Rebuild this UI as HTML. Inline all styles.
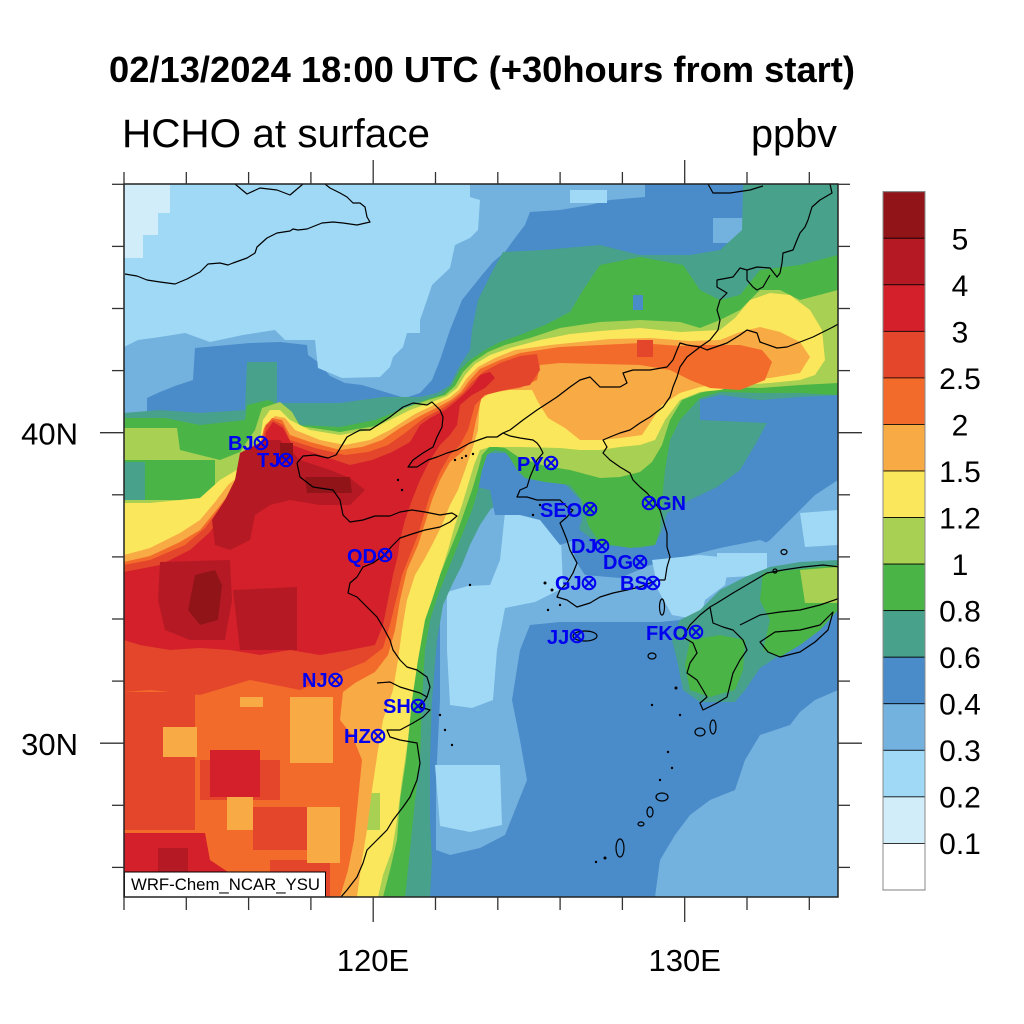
<!DOCTYPE html>
<html><head><meta charset="utf-8"><style>
html,body{margin:0;padding:0;background:#fff;}
svg{display:block;}
text{font-family:"Liberation Sans",sans-serif;}
</style></head><body>
<svg width="1024" height="1024" viewBox="0 0 1024 1024" xmlns="http://www.w3.org/2000/svg">
<defs><clipPath id="mc"><rect x="124" y="184" width="714" height="713"/></clipPath></defs>
<rect width="1024" height="1024" fill="#fff"/>
<text x="482" y="82" font-size="36" font-weight="bold" text-anchor="middle" textLength="746" lengthAdjust="spacingAndGlyphs">02/13/2024 18:00 UTC (+30hours from start)</text>
<text x="122" y="147" font-size="40" textLength="308" lengthAdjust="spacingAndGlyphs">HCHO at surface</text>
<text x="751" y="147" font-size="40" textLength="86" lengthAdjust="spacingAndGlyphs">ppbv</text>

<g clip-path="url(#mc)">
<rect x="124" y="184" width="714" height="713" fill="#4a8bc9"/>
<!-- 0.3 -->
<g fill="#73b1de">
<polygon points="124,184 645,184 645,197 610,200 590,205 560,210 530,212 525,225 515,238 505,252 493,262 482,275 462,300 450,330 440,360 432,380 420,393 405,398 385,392 362,385 345,383 330,376 318,362 308,355 307,345 280,342 250,343 195,348 193,380 175,386 160,392 147,398 147,418 124,418"/>
<polygon points="713,218 783,218 783,243 713,243"/>
<polygon points="445,545 462,522 490,508 520,506 555,500 568,515 572,540 575,560 585,575 620,578 650,565 680,558 720,548 760,540 780,548 790,560 760,570 730,585 700,610 680,620 660,622 620,622 560,622 530,625 520,650 512,700 520,740 527,780 515,810 505,835 480,848 450,855 436,850 436,780 440,700 440,620 440,580"/>
<polygon points="655,897 838,897 838,690 815,700 800,712 790,725 760,735 745,760 735,790 710,800 690,815 675,835 660,860"/>
<polygon points="838,480 838,572 790,572 760,578 720,580 740,560 770,540 795,515 815,495"/>
</g>
<!-- 0.2 -->
<g fill="#9fd9f6">
<polygon points="124,184 470,184 470,197 480,200 478,230 470,238 455,245 450,268 432,285 427,300 420,320 420,333 407,333 403,347 393,357 390,367 380,377 342,378 318,368 315,340 285,340 275,330 243,335 210,342 185,333 160,337 138,340 124,347"/>
<polygon points="570,190 607,190 607,203 570,203"/>
<polygon points="505,512 560,512 563,588 535,602 505,608 497,650 493,700 472,708 450,705 447,650 447,592 468,586 490,585 500,560"/>
<polygon points="435,765 500,765 502,825 470,832 440,826"/>
<polygon points="652,560 700,555 730,558 725,585 705,600 700,620 672,615 658,590"/>
<polygon points="800,513 838,510 838,545 805,547"/>
<polygon points="717,553 767,553 767,575 717,578"/>
</g>
<polygon fill="#d2edfa" points="124,184 170,184 170,213 158,213 158,235 143,235 143,258 124,258"/>
<!-- 0.6 teal -->
<g fill="#48a18b">
<polygon points="124,413 160,410 200,413 245,410 247,362 277,362 277,403 340,403 383,397 420,397 437,393 450,385 460,365 470,350 472,330 478,300 493,270 503,252 543,250 600,245 640,255 690,255 720,250 742,230 743,184 838,184 838,395 800,397 760,400 720,395 700,400 700,420 767,423 755,445 740,470 717,487 690,500 667,513 662,530 655,545 640,548 600,545 580,530 570,505 555,490 535,485 515,490 500,500 490,510 480,525 470,545 462,565 452,585 443,605 437,640 432,700 430,760 430,820 432,860 430,897 124,897"/>
<polygon points="838,560 838,605 820,625 800,640 780,655 760,668 745,690 735,702 700,702 683,690 677,660 672,640 680,620 700,610 720,590 745,577 770,567 800,562"/>
</g>
<polygon fill="#4a8bc9" points="477,453 517,453 522,470 540,480 565,484 580,500 582,520 575,540 560,545 540,520 520,515 495,515 490,490 477,487"/>
<!-- 0.8 green -->
<g fill="#4bb447">
<polygon points="124,418 165,418 200,425 245,420 247,405 268,400 290,410 300,425 340,427 375,420 400,410 425,400 443,394 452,385 460,370 470,360 485,350 500,342 520,335 545,325 570,312 583,290 600,265 640,257 683,265 700,290 720,300 740,295 760,270 800,265 838,255 838,395 800,393 760,393 720,392 700,398 680,420 670,440 665,470 662,500 660,530 655,545 630,548 600,543 588,525 582,500 570,485 545,482 525,478 517,470 510,458 505,452 495,450 487,455 482,470 478,490 472,510 464,530 456,550 448,570 438,595 430,620 425,650 422,700 420,760 415,800 410,850 405,897 124,897"/>
<polygon points="690,640 720,635 745,640 743,670 735,690 710,697 690,690 685,665"/>
<polygon points="763,573 838,565 838,610 820,630 800,645 780,657 763,650 770,620 760,600"/>
</g>
<polygon fill="#48a18b" points="800,303 838,303 838,343 800,343"/>
<polygon fill="#4a8bc9" points="633,295 643,295 643,310 633,310"/>
<!-- 1.0 lime -->
<g fill="#a8d052">
<polygon points="124,428 177,428 180,450 200,455 220,460 240,452 255,430 262,408 280,402 292,412 300,426 340,432 375,426 392,415 405,408 428,400 445,395 455,386 463,372 473,362 488,352 505,345 530,338 560,328 600,322 640,320 680,322 700,328 720,320 740,310 760,290 780,290 800,300 838,290 838,383 800,385 760,388 720,387 700,393 682,400 670,420 662,445 652,462 640,472 620,477 600,478 570,470 545,466 520,458 505,448 490,446 482,455 478,470 472,490 465,510 458,530 450,550 442,570 432,590 425,610 418,640 413,680 410,720 406,760 400,800 397,840 390,870 383,897 124,897"/>
<polygon points="800,570 838,567 838,603 805,603"/>
</g>
<polygon fill="#4bb447" points="124,460 215,460 215,500 124,500"/>
<polygon fill="#48a18b" points="124,462 145,462 145,500 124,500"/>
<!-- 1.2 yellow -->
<polygon fill="#fae75c" points="124,503 150,503 200,498 220,480 240,468 252,455 260,440 263,420 270,410 280,410 290,420 310,430 340,435 370,430 390,420 410,410 432,402 447,396 457,388 465,375 475,364 490,355 510,348 540,340 570,334 600,331 640,328 680,332 720,330 735,318 750,300 770,293 790,295 810,310 822,330 825,360 815,375 800,380 770,383 740,385 720,390 700,392 680,400 665,420 655,440 640,445 620,447 600,450 580,450 560,448 520,447 490,447 480,450 474,465 468,485 462,505 455,525 448,550 440,575 432,600 425,620 418,660 412,700 408,740 402,780 397,820 392,850 383,875 378,897 124,897"/>
<polygon fill="#a8d052" points="360,793 380,793 380,830 360,830"/>
<!-- 1.5 light orange -->
<polygon fill="#f8aa45" points="124,555 150,548 180,533 200,520 215,502 228,485 240,475 250,463 256,450 262,438 265,425 275,416 285,418 295,430 320,440 345,445 370,440 390,430 415,414 436,404 449,398 459,390 467,378 478,367 495,358 515,350 550,345 580,342 610,339 650,338 690,341 720,340 740,332 760,327 780,332 800,342 810,357 800,373 770,378 740,380 720,384 700,387 680,393 662,405 652,420 642,435 620,438 600,440 580,440 565,428 548,418 538,402 532,390 510,390 490,393 480,400 478,430 472,450 465,470 458,490 450,505 442,525 432,545 424,560 415,575 407,600 402,630 398,660 393,690 383,720 378,750 372,790 367,830 362,860 357,897 124,897"/>
<!-- 2 orange -->
<polygon fill="#f36b2b" points="124,562 150,556 180,542 200,530 218,508 232,490 244,475 254,460 260,445 264,428 272,418 282,420 290,435 310,442 340,450 362,447 382,440 400,428 420,416 440,406 451,400 461,392 469,381 480,369 500,360 520,353 560,347 600,345 640,343 680,346 700,345 740,345 762,350 772,362 765,380 740,390 710,388 690,380 670,370 640,365 600,364 560,363 540,365 537,380 520,388 500,391 482,396 476,420 472,440 462,452 450,462 440,480 432,500 426,520 418,545 407,570 400,600 395,630 388,655 375,672 355,683 343,692 340,720 352,735 362,760 358,800 354,840 348,870 340,897 124,897"/>
<!-- 2.5 red-orange -->
<g fill="#e4462c">
<polygon points="124,565 150,560 185,545 205,528 222,505 236,488 248,472 258,455 263,438 266,425 273,420 283,425 290,440 315,448 345,455 368,452 388,445 405,433 424,418 443,408 453,401 463,393 471,383 483,372 500,363 520,356 537,354 540,370 530,385 505,390 485,395 475,405 468,430 460,445 450,455 440,472 430,495 424,515 418,535 410,555 402,575 396,600 390,625 383,648 365,662 340,672 300,690 250,680 200,695 150,690 124,692"/>
<polygon points="124,692 195,692 195,830 124,830"/>
<polygon points="200,760 280,760 280,800 200,800"/>
<polygon points="253,807 307,807 307,850 253,850"/>
<polygon points="270,860 330,860 330,897 270,897"/>
<polygon points="637,340 653,340 653,357 637,357"/>
</g>
<g fill="#f8aa45">
<polygon points="163,727 197,727 197,757 163,757"/>
<polygon points="227,787 253,787 253,830 227,830"/>
<polygon points="290,697 333,697 333,763 290,763"/>
<polygon points="307,807 340,807 340,863 307,863"/>
<polygon points="240,697 263,697 263,707 240,707"/>
</g>
<!-- 3 red -->
<g fill="#d3202a">
<polygon points="124,572 160,565 190,550 210,532 225,510 240,492 255,470 263,452 266,432 273,422 283,428 292,445 320,455 350,465 372,460 392,452 410,442 420,425 430,418 445,410 455,402 463,395 473,385 480,375 490,372 495,378 485,388 472,395 460,405 457,425 450,435 440,445 430,460 420,480 412,500 405,520 400,540 398,555 393,575 388,600 383,625 375,645 350,650 320,655 290,650 260,655 230,650 200,648 170,650 140,645 124,640"/>
<polygon points="210,750 260,750 260,797 210,797"/>
<polygon points="124,833 205,833 210,860 240,880 240,897 124,897"/>
</g>
<!-- 4 dark red -->
<g fill="#b51a24">
<polygon points="240,453 265,440 280,440 300,460 330,470 350,478 365,490 350,505 320,505 290,500 270,505 255,515 250,540 230,550 215,545 212,520 225,500 235,480"/>
<polygon points="160,562 230,560 232,600 225,640 190,640 165,630 158,600"/>
<polygon points="233,590 297,587 297,650 240,650"/>
<polygon points="158,848 188,848 188,872 158,872"/>
</g>
<!-- 5 darkest -->
<g fill="#911419">
<polygon points="195,575 215,570 222,585 218,620 200,625 188,610"/>
<polygon points="305,477 350,477 352,493 307,493"/>
<polygon points="280,443 293,443 293,460 280,460"/>
</g>

<!-- coastlines -->
<g fill="none" stroke="#000" stroke-width="1.2" stroke-linejoin="round">
<polyline points="125,274 137,276 147,280 160,282 175,284 187,279 200,272 208,264 220,263 228,265 233,263 247,258 255,253 257,247 267,238 277,233 290,231 293,229 298,230 307,229 322,223 333,222 343,223 357,225 370,222 367,217 365,207 360,203 353,203 347,197 340,193 330,188 325,184"/>
<polyline points="235,184 247,194 260,188 277,190 290,195 303,184"/>
<polyline points="708,184 713,193 730,193 750,190 763,186"/>
<polyline points="830,184 832,193 820,200 812,207 808,220 805,227 800,233 797,240 793,250 783,253 782,263 780,273 777,277 770,268 757,267 747,270 740,268 733,277 717,280 717,287 727,293 720,300 717,310 720,320 718,330 710,340 700,347 687,345 680,343 677,350 673,360 667,367 650,370 633,370 623,373 627,383 620,387 600,387 590,377 580,380 570,387 557,397 537,410 523,420 510,430 503,433 497,437"/>
<polyline points="747,270 747,280 753,287 757,290 763,287 767,280 770,275"/>
<polyline points="700,347 707,350 727,343 740,335 747,330 757,333 760,342 777,348 787,347 800,342 813,337 833,327 840,323"/>
<polyline points="700,347 687,357 680,367 677,377 673,387 670,397 663,407 650,417 640,423 630,430 620,433 610,437 603,440 607,447 603,453 610,460 620,467 630,473 633,480 640,487 647,493 653,500 660,510 663,520 667,533 667,547 670,557 667,567 665,580"/>
<polyline points="503,433 510,436 520,438 533,440 537,443 540,447 543,453 537,460 533,470 530,477 527,487 520,490 517,497 527,497 537,500 547,500 560,500 567,507 573,510 567,517 560,523 563,530 567,540 570,550 577,563 573,573 567,583 560,590 557,597 567,600 577,607 590,603 600,597 613,593 627,590 640,587 650,583 657,580 665,580"/>
<polyline points="297,463 300,477 313,487 333,490 340,500 343,515 350,522 363,520 375,516 390,516 400,512 412,510 425,512 440,515 452,513 457,516 450,522 440,527 425,530 412,534 400,538 392,546 384,555 373,563 363,567 357,577 350,583 348,593 357,597 367,607 377,617 383,627 390,640 393,650 400,660 407,667 417,670 427,677 430,687 427,697 420,707 430,710 423,717 413,723 400,730 387,730 390,737 400,740 417,743 420,763 417,780 410,797 403,807 393,820 387,830 377,840 367,850 363,863 357,877 347,890 340,898"/>
<polyline points="297,463 303,456 315,455 328,458 336,455 347,437 360,430 370,430 390,417 403,407 413,403 427,405 432,402 440,410 443,417 442,427 437,437 433,447 423,453 413,460 408,467 417,467 428,460 437,457 447,453 457,450 470,443 487,437 497,437 503,433"/>
<polyline points="377,683 390,682 400,687 410,690 420,693 427,697"/>
<polygon points="710,607 713,623 723,627 733,630 743,640 747,650 740,660 733,673 727,697 717,703 703,710 700,703 707,697 703,690 697,680 687,673 690,663 697,653 693,643 683,637 690,625 700,615"/>
<polyline points="710,607 717,603 733,593 750,583 767,573 783,570 803,567 823,565 840,567"/>
<polyline points="740,625 760,615 780,612 800,610 820,605 840,598"/>
<polygon points="760,642 775,632 800,630 820,625 833,612 828,630 815,642 800,652 780,657 768,652"/>
<ellipse cx="585" cy="636" rx="12" ry="5"/>
<ellipse cx="662" cy="607" rx="2.5" ry="8"/>
<ellipse cx="652" cy="656" rx="4" ry="3"/>
<ellipse cx="713" cy="727" rx="3" ry="7"/>
<ellipse cx="700" cy="732" rx="5" ry="4"/>
<ellipse cx="662" cy="797" rx="6" ry="4"/>
<ellipse cx="650" cy="812" rx="3" ry="5"/>
<ellipse cx="641" cy="824" rx="3" ry="2"/>
<ellipse cx="620" cy="848" rx="4" ry="9"/>
<ellipse cx="784" cy="552" rx="3" ry="2.5"/>
<ellipse cx="775" cy="571" rx="2" ry="2"/>
</g>
<g fill="#000">
<circle cx="676" cy="688" r="1.5"/><circle cx="652" cy="705" r="1.2"/><circle cx="680" cy="715" r="1.2"/>
<circle cx="668" cy="752" r="1.2"/><circle cx="672" cy="768" r="1.2"/><circle cx="660" cy="780" r="1.2"/>
<circle cx="605" cy="858" r="1.5"/><circle cx="596" cy="862" r="1.2"/><circle cx="545" cy="583" r="1.5"/>
<circle cx="552" cy="590" r="1.5"/><circle cx="560" cy="605" r="1.2"/><circle cx="548" cy="610" r="1.2"/>
<circle cx="540" cy="505" r="1.2"/><circle cx="533" cy="515" r="1.2"/><circle cx="470" cy="585" r="1.2"/>
<circle cx="455" cy="460" r="1.2"/><circle cx="402" cy="490" r="1.2"/><circle cx="398" cy="480" r="1.2"/>
<circle cx="440" cy="715" r="1.2"/><circle cx="445" cy="730" r="1.2"/><circle cx="452" cy="745" r="1.2"/>
<circle cx="466" cy="456" r="1.2"/><circle cx="473" cy="454" r="1.2"/><circle cx="462" cy="458" r="1"/>
</g>

<!-- WRF label box -->
<rect x="124.5" y="872" width="201" height="26" fill="#fff" stroke="#000" stroke-width="1"/>
<text x="131" y="890" font-size="16.5" textLength="189" lengthAdjust="spacingAndGlyphs">WRF-Chem_NCAR_YSU</text>
</g>

<!-- frame -->
<rect x="124" y="184" width="714" height="713" fill="none" stroke="#222" stroke-width="1.5"/>
<!-- ticks -->
<g stroke="#333" stroke-width="1.3">
<line x1="124" y1="897" x2="124" y2="910"/><line x1="186.3" y1="897" x2="186.3" y2="910"/><line x1="248.6" y1="897" x2="248.6" y2="910"/><line x1="310.9" y1="897" x2="310.9" y2="910"/><line x1="373.2" y1="897" x2="373.2" y2="922"/><line x1="435.5" y1="897" x2="435.5" y2="910"/><line x1="497.8" y1="897" x2="497.8" y2="910"/><line x1="560.1" y1="897" x2="560.1" y2="910"/><line x1="622.4" y1="897" x2="622.4" y2="910"/><line x1="684.7" y1="897" x2="684.7" y2="922"/><line x1="747" y1="897" x2="747" y2="910"/><line x1="809.3" y1="897" x2="809.3" y2="910"/>
<line x1="124" y1="184" x2="124" y2="172"/><line x1="186.3" y1="184" x2="186.3" y2="172"/><line x1="248.6" y1="184" x2="248.6" y2="172"/><line x1="310.9" y1="184" x2="310.9" y2="172"/><line x1="373.2" y1="184" x2="373.2" y2="160"/><line x1="435.5" y1="184" x2="435.5" y2="172"/><line x1="497.8" y1="184" x2="497.8" y2="172"/><line x1="560.1" y1="184" x2="560.1" y2="172"/><line x1="622.4" y1="184" x2="622.4" y2="172"/><line x1="684.7" y1="184" x2="684.7" y2="160"/><line x1="747" y1="184" x2="747" y2="172"/><line x1="809.3" y1="184" x2="809.3" y2="172"/>
<line x1="124" y1="184.3" x2="112" y2="184.3"/><line x1="124" y1="246.4" x2="112" y2="246.4"/><line x1="124" y1="308.5" x2="112" y2="308.5"/><line x1="124" y1="370.6" x2="112" y2="370.6"/><line x1="124" y1="432.7" x2="100" y2="432.7"/><line x1="124" y1="494.8" x2="112" y2="494.8"/><line x1="124" y1="556.9" x2="112" y2="556.9"/><line x1="124" y1="619" x2="112" y2="619"/><line x1="124" y1="681.1" x2="112" y2="681.1"/><line x1="124" y1="743.2" x2="100" y2="743.2"/><line x1="124" y1="805.3" x2="112" y2="805.3"/><line x1="124" y1="867.4" x2="112" y2="867.4"/>
<line x1="838" y1="184.3" x2="850" y2="184.3"/><line x1="838" y1="246.4" x2="850" y2="246.4"/><line x1="838" y1="308.5" x2="850" y2="308.5"/><line x1="838" y1="370.6" x2="850" y2="370.6"/><line x1="838" y1="432.7" x2="862" y2="432.7"/><line x1="838" y1="494.8" x2="850" y2="494.8"/><line x1="838" y1="556.9" x2="850" y2="556.9"/><line x1="838" y1="619" x2="850" y2="619"/><line x1="838" y1="681.1" x2="850" y2="681.1"/><line x1="838" y1="743.2" x2="862" y2="743.2"/><line x1="838" y1="805.3" x2="850" y2="805.3"/><line x1="838" y1="867.4" x2="850" y2="867.4"/>
</g>
<g font-size="31" fill="#000">
<text x="78" y="444.5" text-anchor="end">40N</text>
<text x="78" y="755" text-anchor="end">30N</text>
<text x="373" y="971" text-anchor="middle">120E</text>
<text x="684.7" y="971" text-anchor="middle">130E</text>
</g>

<!-- station labels -->
<g font-size="20" font-weight="bold" fill="#0000f0">
<text x="228" y="450">BJ</text>
<text x="257" y="467">TJ</text>
<text x="347" y="563">QD</text>
<text x="302" y="687">NJ</text>
<text x="383" y="713">SH</text>
<text x="344" y="743">HZ</text>
<text x="517" y="471">PY</text>
<text x="540" y="517">SEO</text>
<text x="656" y="510">GN</text>
<text x="571" y="553">DJ</text>
<text x="603" y="569">DG</text>
<text x="555" y="590">GJ</text>
<text x="620" y="590">BS</text>
<text x="547" y="644">JJ</text>
<text x="646" y="640">FKO</text>
</g>
<g fill="none" stroke="#0000f0" stroke-width="2">
<g transform="translate(261,443)"><circle r="6.3"/><path d="M-4.4,-4.4L4.4,4.4M-4.4,4.4L4.4,-4.4"/></g>
<g transform="translate(286,460)"><circle r="6.3"/><path d="M-4.4,-4.4L4.4,4.4M-4.4,4.4L4.4,-4.4"/></g>
<g transform="translate(385,555)"><circle r="6.3"/><path d="M-4.4,-4.4L4.4,4.4M-4.4,4.4L4.4,-4.4"/></g>
<g transform="translate(335.5,680)"><circle r="6.3"/><path d="M-4.4,-4.4L4.4,4.4M-4.4,4.4L4.4,-4.4"/></g>
<g transform="translate(418,706)"><circle r="6.3"/><path d="M-4.4,-4.4L4.4,4.4M-4.4,4.4L4.4,-4.4"/></g>
<g transform="translate(378,736)"><circle r="6.3"/><path d="M-4.4,-4.4L4.4,4.4M-4.4,4.4L4.4,-4.4"/></g>
<g transform="translate(551,463)"><circle r="6.3"/><path d="M-4.4,-4.4L4.4,4.4M-4.4,4.4L4.4,-4.4"/></g>
<g transform="translate(590,509)"><circle r="6.3"/><path d="M-4.4,-4.4L4.4,4.4M-4.4,4.4L4.4,-4.4"/></g>
<g transform="translate(649,503)"><circle r="6.3"/><path d="M-4.4,-4.4L4.4,4.4M-4.4,4.4L4.4,-4.4"/></g>
<g transform="translate(602,546)"><circle r="6.3"/><path d="M-4.4,-4.4L4.4,4.4M-4.4,4.4L4.4,-4.4"/></g>
<g transform="translate(640,562)"><circle r="6.3"/><path d="M-4.4,-4.4L4.4,4.4M-4.4,4.4L4.4,-4.4"/></g>
<g transform="translate(589,583)"><circle r="6.3"/><path d="M-4.4,-4.4L4.4,4.4M-4.4,4.4L4.4,-4.4"/></g>
<g transform="translate(653,583)"><circle r="6.3"/><path d="M-4.4,-4.4L4.4,4.4M-4.4,4.4L4.4,-4.4"/></g>
<g transform="translate(577,636)"><circle r="6.3"/><path d="M-4.4,-4.4L4.4,4.4M-4.4,4.4L4.4,-4.4"/></g>
<g transform="translate(696,632)"><circle r="6.3"/><path d="M-4.4,-4.4L4.4,4.4M-4.4,4.4L4.4,-4.4"/></g>
</g>

<!-- colorbar -->
<g stroke="#000" stroke-width="0.8">
<rect x="883" y="191.7" width="42" height="46.55" fill="#911419"/>
<rect x="883" y="238.25" width="42" height="46.55" fill="#b51a24"/>
<rect x="883" y="284.8" width="42" height="46.55" fill="#d3202a"/>
<rect x="883" y="331.35" width="42" height="46.55" fill="#e4462c"/>
<rect x="883" y="377.9" width="42" height="46.55" fill="#f36b2b"/>
<rect x="883" y="424.45" width="42" height="46.55" fill="#f8aa45"/>
<rect x="883" y="471" width="42" height="46.55" fill="#fae75c"/>
<rect x="883" y="517.55" width="42" height="46.55" fill="#a8d052"/>
<rect x="883" y="564.1" width="42" height="46.55" fill="#4bb447"/>
<rect x="883" y="610.65" width="42" height="46.55" fill="#48a18b"/>
<rect x="883" y="657.2" width="42" height="46.55" fill="#4a8bc9"/>
<rect x="883" y="703.75" width="42" height="46.55" fill="#73b1de"/>
<rect x="883" y="750.3" width="42" height="46.55" fill="#9fd9f6"/>
<rect x="883" y="796.85" width="42" height="46.55" fill="#d2edfa"/>
<rect x="883" y="843.4" width="42" height="46.55" fill="#fff"/>
</g>
<rect x="883" y="191.7" width="42" height="698.25" fill="none" stroke="#888" stroke-width="1"/>
<g font-size="30" text-anchor="middle" fill="#000">
<text x="960" y="249.5">5</text>
<text x="960" y="296">4</text>
<text x="960" y="342.5">3</text>
<text x="960" y="389">2.5</text>
<text x="960" y="435.5">2</text>
<text x="960" y="482">1.5</text>
<text x="960" y="528.5">1.2</text>
<text x="960" y="575">1</text>
<text x="960" y="621.5">0.8</text>
<text x="960" y="668">0.6</text>
<text x="960" y="714.5">0.4</text>
<text x="960" y="761">0.3</text>
<text x="960" y="807.5">0.2</text>
<text x="960" y="854">0.1</text>
</g>
</svg>
</body></html>
